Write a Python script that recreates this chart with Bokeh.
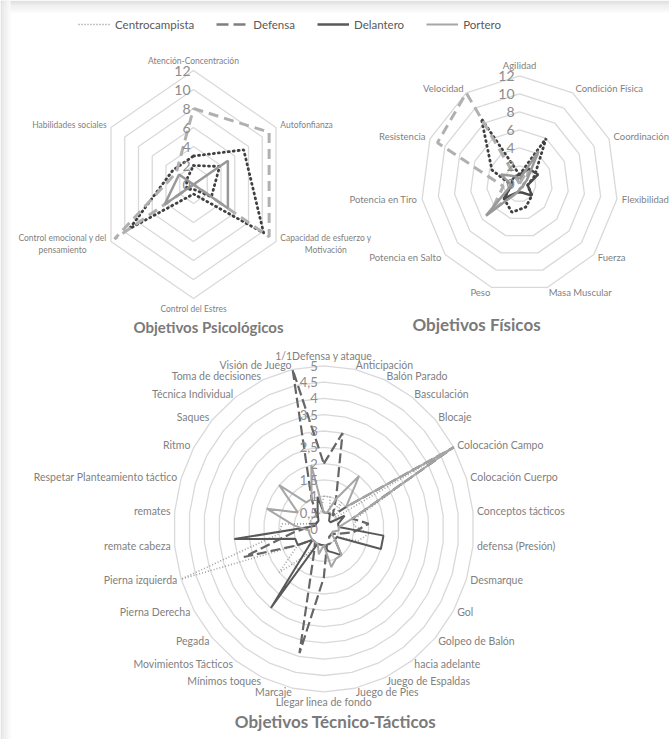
import numpy as np
from bokeh.plotting import figure
from bokeh.models import ColumnDataSource, Label, Legend, LegendItem, Range1d, BoxAnnotation
from bokeh.embed import file_html
from bokeh.resources import INLINE
from bokeh.core.properties import value

# ---------------- data ----------------
series_names = ["Centrocampista", "Defensa", "Delantero", "Portero"]

psy_categories = ["Atención-Concentración", "Autofonfianza",
                  "Capacidad de esfuerzo y\nMotivación", "Control del Estres",
                  "Control emocional y del\npensamiento", "Habilidades sociales"]
psy_centrocampista = [3, 7.3, 10.2, 1, 9.3, 3]
psy_defensa = [8, 11, 11, 0, 11.5, 2.5]
psy_delantero = [2, 3.8, 2.6, 0.5, 1, 1]
psy_portero = [0, 5, 5, 0, 4.2, 2.1]
psy_ticks = [0, 2, 4, 6, 8, 10, 12]
psy_tick_labels = ["0", "2", "4", "6", "8", "10", "12"]

fis_categories = ["Agilidad", "Condición Física", "Coordinación", "Flexibilidad",
                  "Fuerza", "Masa Muscular", "Peso", "Potencia en Salto",
                  "Potencia en Tiro", "Resistencia", "Velocidad"]
fis_centrocampista = [1, 6, 2, 1, 2, 2.7, 3.3, 2.5, 1, 3.7, 8.6]
fis_defensa = [0, 2, 1, 0.5, 0.5, 0.5, 1, 4.5, 2, 11, 12]
fis_delantero = [1, 2, 2.5, 1, 2, 1, 1, 2.5, 1, 1, 1]
fis_portero = [0.5, 4.3, 1, 0.5, 0.5, 0.5, 1, 5.4, 1, 2.5, 1]
fis_ticks = [0, 2, 4, 6, 8, 10, 12]
fis_tick_labels = ["0", "2", "4", "6", "8", "10", "12"]

tec_categories = ["1/1Defensa y ataque", "Anticipación", "Balón Parado", "Basculación",
                  "Blocaje", "Colocación Campo", "Colocación Cuerpo", "Conceptos tácticos",
                  "defensa (Presión)", "Desmarque", "Gol", "Golpeo de Balón",
                  "hacia adelante", "Juego de Espaldas", "Juego de Pies",
                  "Llegar linea de fondo", "Marcaje", "Mínimos toques",
                  "Movimientos Tácticos", "Pegada", "Pierna Derecha", "Pierna izquierda",
                  "remate cabeza", "remates", "Respetar Planteamiento táctico", "Ritmo",
                  "Saques", "Técnica Individual", "Toma de decisiones", "Visión de Juego"]
tec_centrocampista = [1, 1, 0.5, 1, 0.5, 4.8, 1.2, 1, 1.5, 1.2, 0.5, 0.5, 0.5, 0.5, 0.5,
                      0.5, 0.5, 0.5, 1, 2, 1, 5, 1.5, 1.4, 0.5, 0.5, 0.5, 0.5, 0.5, 0.5]
tec_defensa = [2, 3, 1, 0.5, 1, 5, 1, 1.5, 1, 0.5, 0.3, 0.3, 0.3, 0.5, 0.5,
               1.5, 3.9, 0.8, 0.5, 0.5, 1, 2.8, 1, 0.5, 0.5, 0.3, 0.3, 0.3, 1, 5]
tec_delantero = [0.5, 0.5, 0.5, 0.3, 0.3, 0.8, 0.5, 0.5, 2, 2, 0.5, 0.5, 1, 0.8, 0.7,
                 0.5, 0.5, 0.5, 3, 0.5, 1, 1, 3, 0.5, 0.3, 0.3, 0.3, 0.3, 0.5, 1]
tec_portero = [0.5, 0.5, 1, 2, 1, 5, 1, 0.5, 0.5, 0.3, 0.3, 0.5, 1, 1, 1.2,
               0.5, 0.8, 0.5, 0.5, 0.5, 0.5, 0.5, 0.5, 1, 2, 1, 2, 1, 1, 2]
tec_ticks = [0, 0.5, 1, 1.5, 2, 2.5, 3, 3.5, 4, 4.5, 5]
tec_tick_labels = ["0", "0,5", "1", "1,5", "2", "2,5", "3", "3,5", "4", "4,5", "5"]

# ---------------- styles ----------------
FONT = "Lato"
GRID = "#d9d9d9"
LABEL_C = "#7f7f7f"
W, H = 669, 739

style_upper = {
    "Centrocampista": dict(line_color="#404040", line_width=2.8, line_dash="1 4", line_cap="round"),
    "Defensa": dict(line_color="#b0b0b0", line_width=3, line_dash="10 6"),
    "Delantero": dict(line_color="#404040", line_width=2.8, line_dash="1 4", line_cap="round"),
    "Portero": dict(line_color="#999999", line_width=2.5),
}
style_fis = dict(style_upper)
style_fis["Delantero"] = dict(line_color="#4a4a4a", line_width=2.5)
style_tec = {
    "Centrocampista": dict(line_color="#a0a0a0", line_width=1.6, line_dash="1 2"),
    "Defensa": dict(line_color="#666666", line_width=2.2, line_dash="10 4"),
    "Delantero": dict(line_color="#595959", line_width=2),
    "Portero": dict(line_color="#a6a6a6", line_width=2),
}
style_legend = {
    "Centrocampista": dict(line_color="#8c8c8c", line_width=1.6, line_dash="1 2"),
    "Defensa": dict(line_color="#7f7f7f", line_width=2.6, line_dash="12 5"),
    "Delantero": dict(line_color="#595959", line_width=2.6),
    "Portero": dict(line_color="#a6a6a6", line_width=2.2),
}

p = figure(width=W, height=H, output_backend="svg", toolbar_location=None, min_border=0,
           x_range=Range1d(0, 1), y_range=Range1d(0, 1))
p.outline_line_color = None
p.axis.visible = False
p.grid.visible = False
p.background_fill_color = "white"
p.border_fill_color = "white"

# soft card shadow (left and top)
for i, col in enumerate(["#e2e2e2", "#e9e9e9", "#efefef", "#f4f4f4", "#f9f9f9"]):
    p.add_layout(BoxAnnotation(left=i * 2, right=i * 2 + 2, bottom=0, top=H,
                               left_units="screen", right_units="screen",
                               bottom_units="screen", top_units="screen",
                               fill_color=col, fill_alpha=1, line_color=None, level="underlay"))
    p.add_layout(BoxAnnotation(left=i * 2, right=W, bottom=H - (i + 1) * 2.4, top=H - i * 2.4,
                               left_units="screen", right_units="screen",
                               bottom_units="screen", top_units="screen",
                               fill_color=col, fill_alpha=1, line_color=None, level="underlay"))


def closed(a):
    return np.append(a, a[0])


def draw_radar(name, cx, cy, sx, sy, cats, series, styles, rings, rmax,
               ticks, tick_labels, cat_size, tick_size, pad, tick_dx,
               title, tx, ty, title_size):
    # chart-specific scales: centre (cx, cy) in page pixels, sx/sy pixels per unit
    p.extra_x_ranges[name] = Range1d(-cx / sx, (W - cx) / sx)
    p.extra_y_ranges[name] = Range1d(-(H - cy) / sy, cy / sy)
    kw = dict(x_range_name=name, y_range_name=name)

    n = len(cats)
    ang = 2 * np.pi * np.arange(n) / n
    s, c = np.sin(ang), np.cos(ang)

    xs = [list(closed(r * s)) for r in rings]
    ys = [list(closed(r * c)) for r in rings]
    p.multi_line(xs, ys, line_color=GRID, line_width=1.3, **kw)

    for sname, vals in series:
        v = np.asarray(vals, float)
        p.line(closed(v * s), closed(v * c), **styles[sname], **kw)

    anchors = []
    for si, ci in zip(s, c):
        if abs(si) < 0.05:
            anchors.append("bottom_center" if ci > 0 else "top_center")
        elif si > 0:
            anchors.append("center_left")
        else:
            anchors.append("center_right")
    src = ColumnDataSource(dict(x=rmax * s, y=rmax * c, t=cats, a=anchors,
                                xo=pad * s, yo=-pad * c))
    p.text("x", "y", text="t", source=src, anchor="a", x_offset="xo", y_offset="yo",
           text_align="center", text_font=value(FONT), text_font_size=cat_size,
           text_color=LABEL_C, text_line_height=1.15, **kw)

    tsrc = ColumnDataSource(dict(x=[0] * len(ticks), y=ticks, t=tick_labels))
    p.text("x", "y", text="t", source=tsrc, anchor="center_right", x_offset=tick_dx,
           text_font=value(FONT), text_font_size=tick_size, text_color="#8c8c8c", **kw)

    p.add_layout(Label(x=tx, y=H - ty, x_units="screen", y_units="screen", text=title,
                       text_align="center", text_baseline="middle", text_font=FONT,
                       text_font_style="bold", text_font_size=title_size,
                       text_color="#7a7a7a"))
    return s, c


draw_radar("psy", 193, 184, 7.94, 9.5, psy_categories,
           list(zip(series_names, [psy_centrocampista, psy_defensa, psy_delantero, psy_portero])),
           style_upper, [2, 4, 6, 8, 10, 12], 12, psy_ticks, psy_tick_labels,
           "8.5px", "14px", 5, -3, "Objetivos Psicológicos", 208, 326, "15px")

draw_radar("fis", 519, 183.3, 8.2, 9.0, fis_categories,
           list(zip(series_names, [fis_centrocampista, fis_defensa, fis_delantero, fis_portero])),
           style_fis, [2, 4, 6, 8, 10, 12], 12, fis_ticks, fis_tick_labels,
           "9.5px", "14px", 5, -5, "Objetivos Físicos", 476, 324, "17px")

tec_vals = [tec_centrocampista, tec_defensa, tec_delantero, tec_portero]
ts, tc = draw_radar("tec", 323.3, 528.3, 30, 32.6, tec_categories,
                    list(zip(series_names, tec_vals)),
                    style_tec, list(np.arange(1, 11) * 0.5), 5, tec_ticks, tec_tick_labels,
                    "10.5px", "13px", 4, -6, "Objetivos Técnico-Tácticos", 335, 721, "17px")

# legend: hidden copies of the series carrying the legend line styles
items = []
for nm, vals in zip(series_names, tec_vals):
    v = np.asarray(vals, float)
    r = p.line(closed(v * ts), closed(v * tc), x_range_name="tec", y_range_name="tec",
               visible=False, **style_legend[nm])
    items.append(LegendItem(label=nm, renderers=[r]))

legend = Legend(items=items, orientation="horizontal", location=(78, H - 31),
                label_text_font=FONT, label_text_font_size="11.5px",
                label_text_color="#595959", glyph_width=32, glyph_height=14,
                label_height=14, label_standoff=5, spacing=22, padding=0, margin=0,
                border_line_color=None, background_fill_alpha=0)
p.add_layout(legend)

open("out.html", "w").write(file_html(p, INLINE))
